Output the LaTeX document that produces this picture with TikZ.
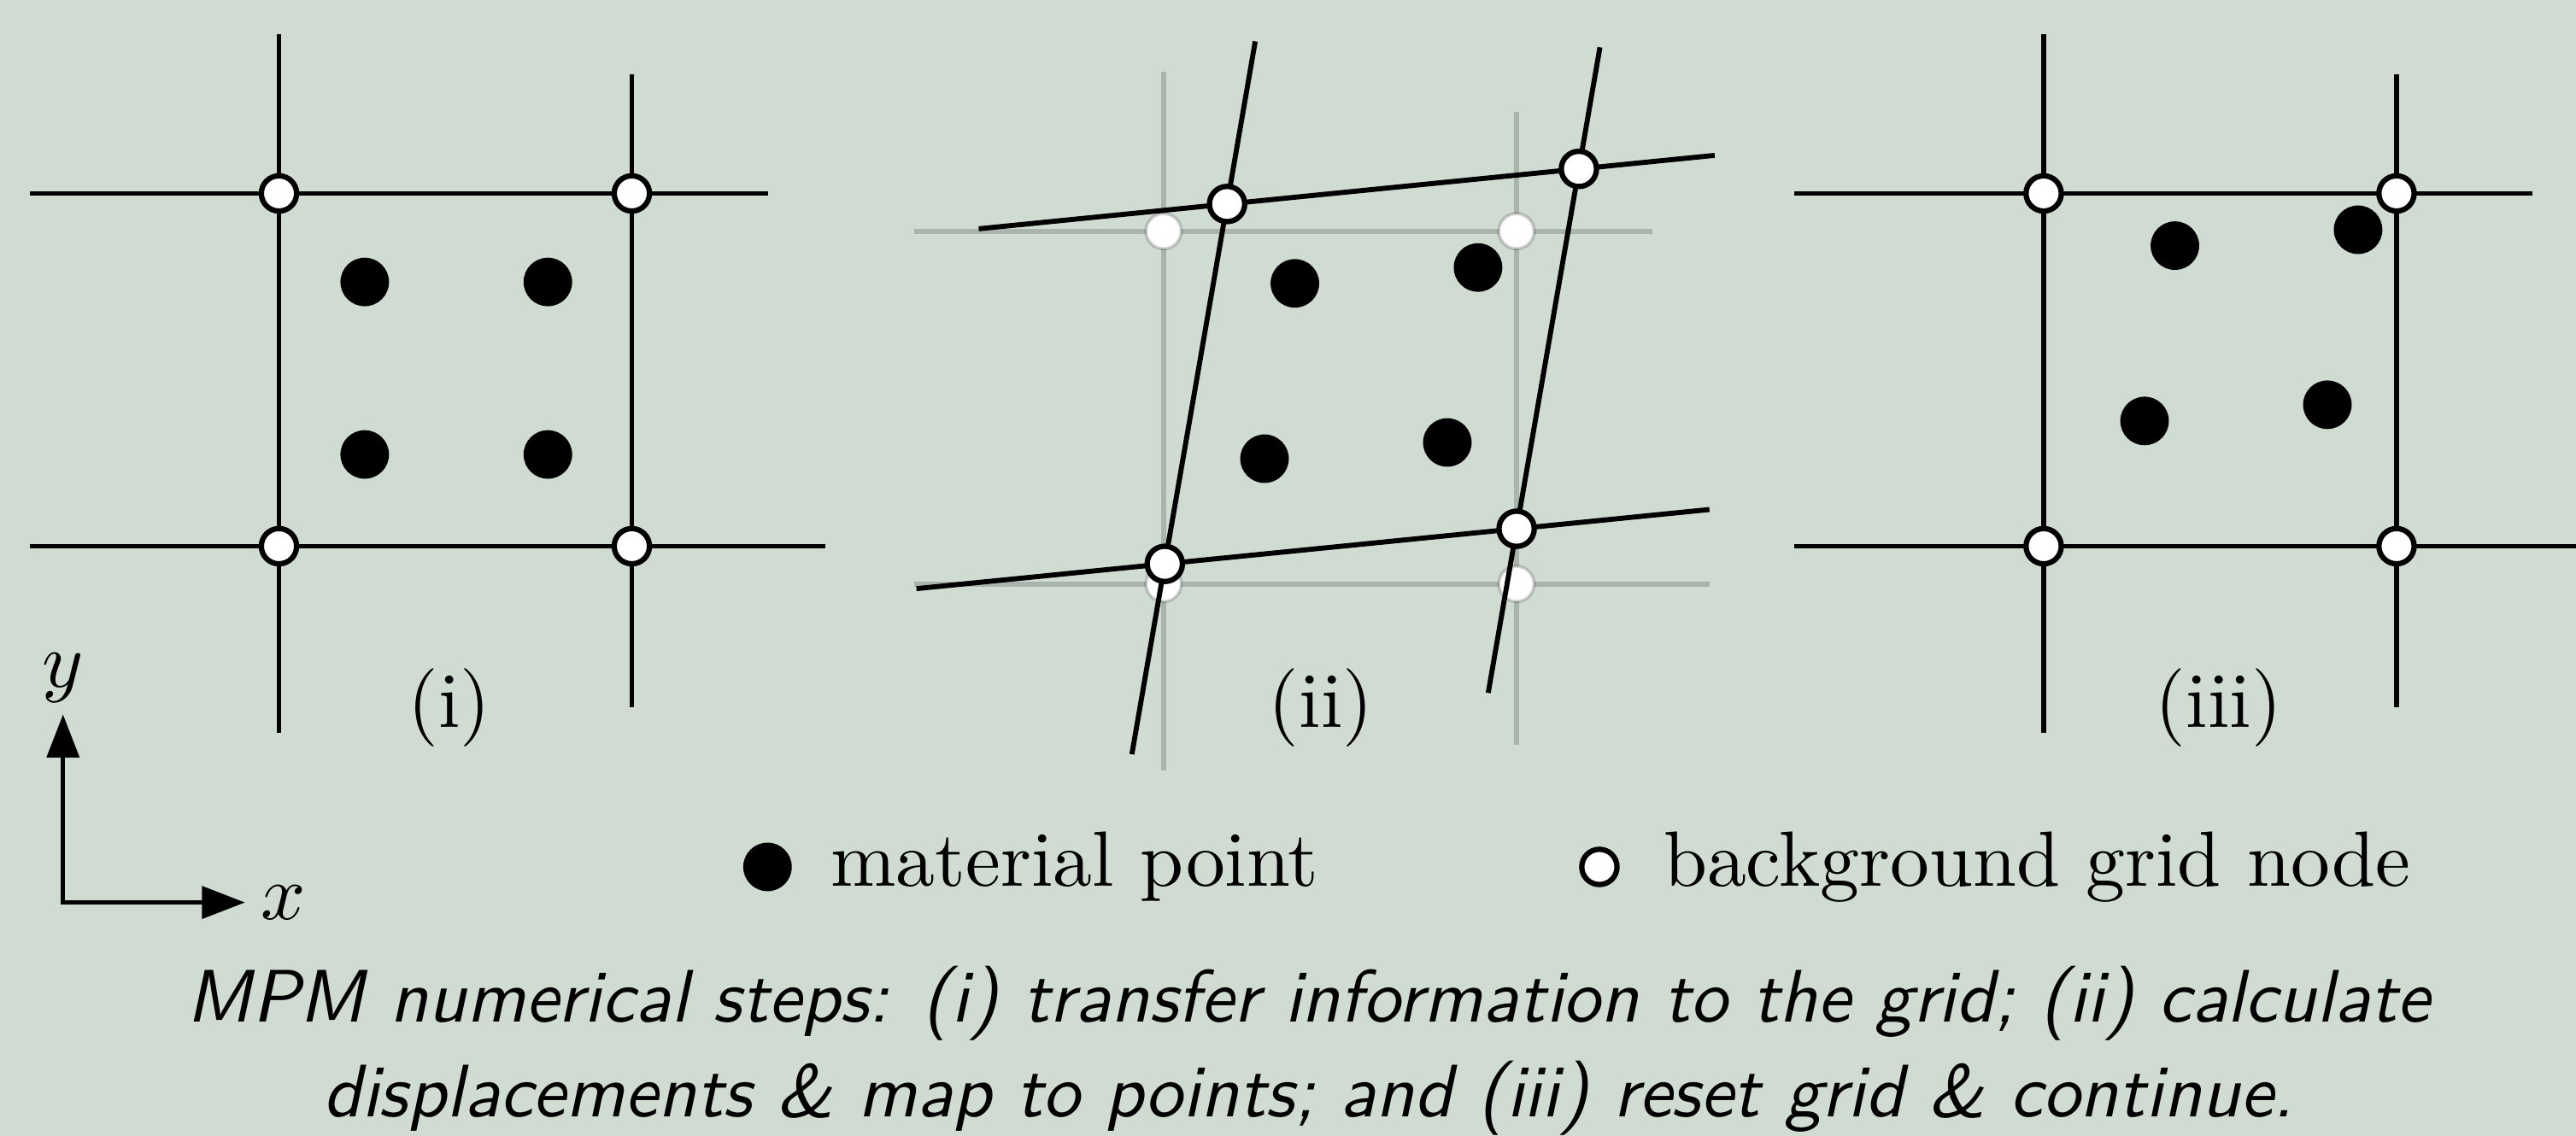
\documentclass[tikz,border=0pt]{standalone}
\usetikzlibrary{arrows.meta, positioning}
\definecolor{slidebg}{RGB}{208,219,210}
\tikzset{
  % grid lines and grid nodes (current / old position)
  new line/.style={line width=0.64pt, black},
  old line/.style={line width=0.64pt, black, draw opacity=0.18},
  new node/.style={circle, draw=black, fill=white, line width=0.68pt,
    minimum size=4.5pt, inner sep=0pt},
  old node/.style={new node, draw opacity=0.18, line width=0.4pt, minimum size=4.5pt},
  % material point
  mpoint/.style={circle, fill=black, minimum size=6.2pt, inner sep=0pt},
  % one cell of the background grid
  pics/cell/.style={code={
    \draw[#1 line] (0,-0.529) -- (0,1.452);
    \draw[#1 line] (1,-0.456) -- (1,1.338);
    \draw[#1 line] (-0.706,0) -- (1.548,0);
    \draw[#1 line] (-0.706,1) -- (1.386,1);
    \foreach \i/\j in {0/0,1/0,0/1,1/1}
      \node[#1 node] (-n\i\j) at (\i,\j) {};
  }},
  % axes
  axis/.style={line width=0.55pt, {Triangle[length=5.5pt, width=4.1pt]}-{Triangle[length=5.5pt, width=4.1pt]}},
  % texts
  lbl/.style={font=\normalsize},
  legtxt/.style={inner sep=0pt},
  caption/.style={font=\sffamily\itshape\fontsize{9.5}{12}\selectfont, anchor=base, inner sep=0pt},
}
\begin{document}
\begin{tikzpicture}[x=1.583cm, y=1.583cm]
  \path[use as bounding box, fill=slidebg] (-0.7906,-1.6719) rectangle (6.5097,1.5484);
  \clip (-0.7906,-1.6719) rectangle (6.5097,1.5484);

  % (i) transfer to the grid
  \pic (a) {cell=new};
  \foreach \x/\y [count=\k] in {0.243/0.749, 0.762/0.749, 0.243/0.260, 0.762/0.260}
    \node[mpoint] (a-p\k) at (\x,\y) {};
  \node[lbl] (a-lbl) at (0.483,-0.457) {(i)};

  % (ii) deformed grid over the old one
  \begin{scope}[shift={(2.507,-0.107)}]
    \pic (b0) {cell=old};
    \pic[cm={0.997,0.0995,0.1765,1.0201,(0.0034,0.0569)}] (b) {cell=new};
    \foreach \x/\y [count=\k] in {0.372/0.852, 0.891/0.897, 0.286/0.355, 0.804/0.401}
      \node[mpoint] (b-p\k) at (\x,\y) {};
  \end{scope}
  \node[lbl] (b-lbl) at (2.953,-0.459) {(ii)};

  % (iii) grid reset
  \begin{scope}[shift={(5.001,0)}]
    \pic (c) {cell=new};
    \foreach \x/\y [count=\k] in {0.372/0.852, 0.891/0.897, 0.286/0.355, 0.804/0.401}
      \node[mpoint] (c-p\k) at (\x,\y) {};
  \end{scope}
  \node[lbl] (c-lbl) at (5.497,-0.457) {(iii)};

  % axes
  \coordinate (ytip) at (-0.612,-0.477);
  \coordinate (xtip) at (-0.0964,-1.010);
  \draw[axis] (ytip) |- (xtip);
  \node[inner sep=0pt, above=1.3pt of ytip] (ylbl) {$y$};
  \node[inner sep=0pt, right=1.8pt of xtip] (xlbl) {$x$};

  % legend
  \node[mpoint] (legpt) at (1.3845,-0.9092) {};
  \node[legtxt, right=4.6pt of legpt] (legpttxt) {material point};
  \node[new node] (legnd) at (3.742,-0.9092) {};
  \node[legtxt, right=5.4pt of legnd] (legndtxt) {background grid node};

  % caption
  \node[caption] (cap1) at (2.918,-1.3499)
    {MPM numerical steps: (i) transfer information to the grid; (ii) calculate};
  \node[caption] (cap2) at ([yshift=-12pt]cap1.base)
    {displacements \& map to points; and (iii) reset grid \& continue.};
\end{tikzpicture}
\end{document}
